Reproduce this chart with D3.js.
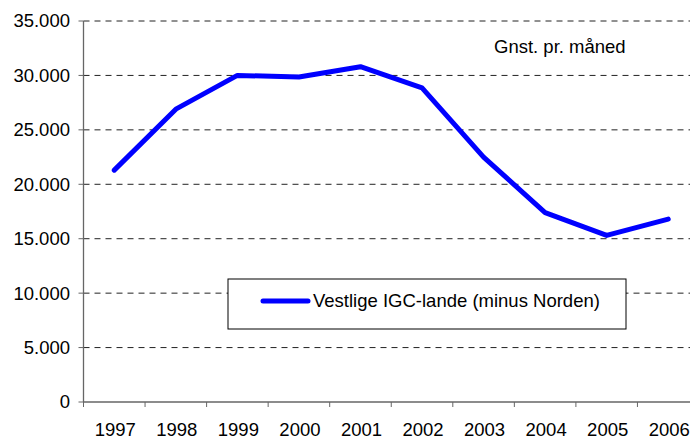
<!DOCTYPE html>
<html>
<head>
<meta charset="utf-8">
<script src="https://cdn.jsdelivr.net/npm/d3@7"></script>
<style>
  body { margin: 0; background: #fff; }
  text { font-family: "Liberation Sans", Arial, sans-serif; fill: #000; }
</style>
</head>
<body>
<div id="chart"></div>
<script>
// data
var years = ["1997", "1998", "1999", "2000", "2001", "2002", "2003", "2004", "2005", "2006"];
var values = [21300, 26900, 30000, 29850, 30800, 28850, 22500, 17400, 15300, 16800];
var yTicks = [0, 5000, 10000, 15000, 20000, 25000, 30000, 35000];
var seriesName = "Vestlige IGC-lande (minus Norden)";
var note = "Gnst. pr. måned";

var W = 690, H = 438;
var margin = {top: 21, right: -9, bottom: 36, left: 83.5};
var width = W - margin.left - margin.right,
    height = H - margin.top - margin.bottom;

var svg = d3.select("#chart").append("svg")
    .attr("width", W).attr("height", H);
var g = svg.append("g")
    .attr("transform", "translate(" + margin.left + "," + margin.top + ")");

var x = d3.scaleBand().domain(years).range([0, width]);
var y = d3.scaleLinear().domain([0, 35000]).range([height, 0]);

var fmt = function(d) { return d === 0 ? "0" : d3.format(",")(d).replace(/,/g, "."); };

// dashed gridlines
g.selectAll(".grid").data(yTicks.filter(function(d) { return d > 0; }))
  .enter().append("line")
  .attr("x1", 0).attr("x2", width)
  .attr("y1", function(d) { return y(d); }).attr("y2", function(d) { return y(d); })
  .attr("stroke", "#222").attr("stroke-width", 1)
  .attr("stroke-dasharray", "6,5");

// y axis
g.append("line").attr("x1", 0).attr("x2", 0).attr("y1", 0).attr("y2", height)
  .attr("stroke", "#666").attr("stroke-width", 1.3);
g.selectAll(".ytick").data(yTicks).enter().append("line")
  .attr("x1", -5).attr("x2", 0)
  .attr("y1", function(d) { return y(d); }).attr("y2", function(d) { return y(d); })
  .attr("stroke", "#666");
g.selectAll(".ylab").data(yTicks).enter().append("text")
  .attr("x", -13.5).attr("y", function(d) { return y(d); })
  .attr("dy", "0.35em").attr("text-anchor", "end")
  .style("font-size", "18.5px")
  .text(fmt);

// x axis
g.append("line").attr("x1", 0).attr("x2", width).attr("y1", height).attr("y2", height)
  .attr("stroke", "#666").attr("stroke-width", 1.3);
g.selectAll(".xtick").data(years).enter().append("line")
  .attr("x1", function(d) { return x(d); }).attr("x2", function(d) { return x(d); })
  .attr("y1", height).attr("y2", height + 5)
  .attr("stroke", "#666");
g.selectAll(".xlab").data(years).enter().append("text")
  .attr("x", function(d) { return x(d) + x.bandwidth() / 2 + 1; })
  .attr("y", height + 33.5)
  .attr("text-anchor", "middle")
  .style("font-size", "18.5px")
  .text(function(d) { return d; });

// series line
var line = d3.line()
  .x(function(d, i) { return x(years[i]) + x.bandwidth() / 2; })
  .y(function(d) { return y(d); });
g.append("path").datum(values)
  .attr("d", line)
  .attr("fill", "none").attr("stroke", "#0000ff")
  .attr("stroke-width", 5).attr("stroke-linejoin", "round").attr("stroke-linecap", "round");

// note
svg.append("text").attr("x", 494).attr("y", 53)
  .style("font-size", "18.5px").text(note);

// legend
var lg = svg.append("g").attr("transform", "translate(228,279)");
lg.append("rect").attr("width", 398).attr("height", 50)
  .attr("fill", "#fff").attr("stroke", "#000").attr("stroke-width", 1);
lg.append("line").attr("x1", 35).attr("x2", 80).attr("y1", 22).attr("y2", 22)
  .attr("stroke", "#0000ff").attr("stroke-width", 5).attr("stroke-linecap", "round");
lg.append("text").attr("x", 85).attr("y", 22).attr("dy", "0.35em")
  .style("font-size", "18.5px").text(seriesName);
</script>
</body>
</html>
